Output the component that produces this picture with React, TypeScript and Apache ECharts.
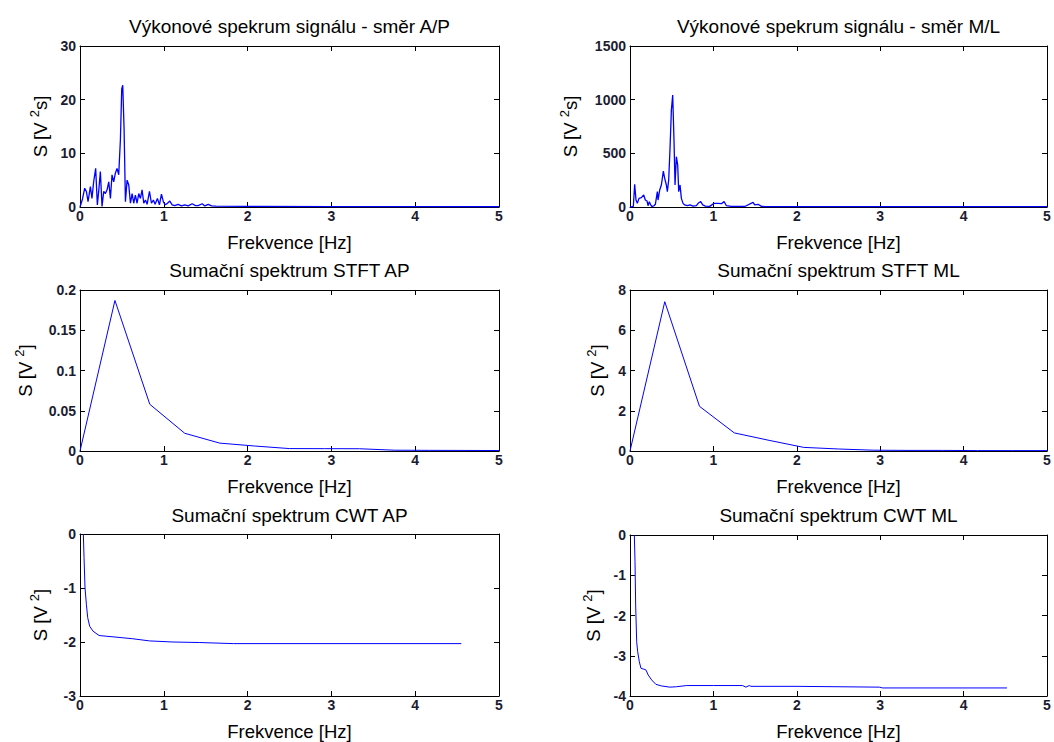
import React, { useEffect, useRef } from "react";
import * as echarts from "echarts";

// ---------- data ----------
const titles = [
  "Výkonové spekrum signálu - směr A/P",
  "Výkonové spekrum signálu - směr M/L",
  "Sumační spektrum STFT AP",
  "Sumační spektrum STFT ML",
  "Sumační spektrum CWT AP",
  "Sumační spektrum CWT ML",
];
const xName = "Frekvence [Hz]";
const xTicks = { min: 0, max: 5, interval: 1 };

// power spectrum A/P: [frequency Hz, S V^2 s]
const apSpectrum: [number, number][] = [
  [0, 0], [0.03, 1.5], [0.056, 3.5], [0.076, 2.9], [0.096, 1.0], [0.124, 3.8], [0.143, 1.6],
  [0.163, 4.7], [0.187, 7.2], [0.207, 0.4], [0.223, 2.9], [0.243, 6.6], [0.263, 0.1],
  [0.283, 2.9], [0.303, 2.5], [0.323, 3.2], [0.343, 4.7], [0.363, 1.6], [0.382, 6.0],
  [0.402, 4.7], [0.422, 6.3], [0.442, 7.2], [0.462, 6.0], [0.482, 12.5], [0.498, 22.0],
  [0.51, 22.7], [0.526, 14.6], [0.542, 1.0], [0.562, 5.0], [0.582, 4.1], [0.602, 0.7],
  [0.622, 2.5], [0.641, 0.7], [0.661, 2.2], [0.681, 0.7], [0.701, 2.5], [0.721, 1.6],
  [0.741, 3.2], [0.761, 0.7], [0.781, 1.3], [0.801, 0.5], [0.829, 2.9], [0.853, 0.7],
  [0.876, 1.3], [0.896, 0.5], [0.924, 1.6], [0.948, 0.4], [0.972, 2.4], [0.996, 0.9],
  [1.02, 0.4], [1.044, 0.7], [1.072, 1.1], [1.1, 0.4], [1.131, 0.25], [1.171, 0.5],
  [1.211, 0.2], [1.251, 0.4], [1.291, 0.2], [1.339, 0.6], [1.378, 0.25], [1.41, 0.25],
  [1.458, 0.6], [1.49, 0.2], [1.53, 0.5], [1.57, 0.2], [1.62, 0.15], [2, 0.1], [3, 0.08],
  [4, 0.06], [5, 0.05],
];

// power spectrum M/L
const mlSpectrum: [number, number][] = [
  [0, 0], [0.016, 0], [0.04, 5], [0.056, 211], [0.072, 65], [0.088, 34], [0.108, 80],
  [0.136, 87], [0.164, 112], [0.184, 65], [0.204, 56], [0.216, 12], [0.232, 50], [0.248, 19],
  [0.264, 3], [0.288, 12], [0.304, 25], [0.328, 143], [0.336, 65], [0.356, 158], [0.376, 205],
  [0.4, 335], [0.416, 267], [0.436, 205], [0.448, 143], [0.464, 252], [0.48, 547], [0.496, 900],
  [0.512, 1043], [0.528, 609], [0.54, 205], [0.556, 469], [0.572, 391], [0.584, 143], [0.6, 205],
  [0.616, 80], [0.636, 34], [0.656, 19], [0.688, 12], [0.72, 19], [0.756, 9], [0.796, 12],
  [0.824, 40], [0.848, 50], [0.872, 20], [0.904, 9], [0.956, 6], [1.008, 34], [1.056, 34],
  [1.096, 31], [1.128, 50], [1.156, 12], [1.216, 6], [1.296, 5], [1.376, 5], [1.476, 43],
  [1.496, 19], [1.536, 25], [1.576, 6], [1.62, 4], [2, 3], [3, 3], [4, 3], [5, 3],
];

// STFT summed spectra
const stftFreq = [0, 0.417, 0.833, 1.25, 1.667, 2.083, 2.5, 2.917, 3.333, 3.75, 4.167, 4.583, 5];
const stftAP = [0, 0.187, 0.058, 0.022, 0.0098, 0.0062, 0.003, 0.0029, 0.0028, 0.001, 0.0008, 0.0007, 0.0006];
const stftML = [0, 7.42, 2.22, 0.9, 0.53, 0.18, 0.1, 0.04, 0.03, 0.03, 0.02, 0.02, 0.02];

// CWT summed spectra
const cwtAP: [number, number][] = [
  [0.04, 0], [0.048, -0.43], [0.06, -1.0], [0.076, -1.3], [0.092, -1.55], [0.116, -1.71],
  [0.156, -1.8], [0.228, -1.88], [0.43, -1.91], [0.63, -1.94], [0.83, -1.98], [1.11, -2.0],
  [1.43, -2.01], [1.83, -2.03], [4.55, -2.03],
];
const cwtML: [number, number][] = [
  [0.052, 0], [0.06, -0.66], [0.068, -1.74], [0.08, -2.65], [0.092, -2.9], [0.112, -3.15],
  [0.131, -3.31], [0.16, -3.33], [0.19, -3.35], [0.219, -3.48], [0.259, -3.6], [0.31, -3.71],
  [0.378, -3.75], [0.478, -3.78], [0.558, -3.77], [0.68, -3.74], [1.0, -3.74], [1.35, -3.74],
  [1.39, -3.78], [1.43, -3.74], [1.45, -3.76], [1.99, -3.76], [2.99, -3.78], [3.03, -3.8],
  [4.52, -3.8],
];

const yRanges = [
  { min: 0, max: 30, interval: 10 },
  { min: 0, max: 1500, interval: 500 },
  { min: 0, max: 0.2, interval: 0.05 },
  { min: 0, max: 8, interval: 2 },
  { min: -3, max: 0, interval: 1 },
  { min: -4, max: 0, interval: 1 },
];
const yNames = [
  "{n|S [V }{s|2}{n|s]}",
  "{n|S [V }{s|2}{n|s]}",
  "{n|S [V }{s|2}{n|]}",
  "{n|S [V }{s|2}{n|]}",
  "{n|S [V }{s|2}{n|]}",
  "{n|S [V }{s|2}{n|]}",
];

// ---------- layout ----------
const FONT = "'Liberation Sans', Arial, Helvetica, sans-serif";
const grids = [
  { left: 80, top: 46, width: 419, height: 161 },
  { left: 630, top: 46, width: 417, height: 161 },
  { left: 80, top: 290, width: 419, height: 161 },
  { left: 630, top: 290, width: 417, height: 161 },
  { left: 80, top: 534, width: 419, height: 162 },
  { left: 630, top: 535, width: 417, height: 161 },
];
const yNameGaps = [30, 50, 45, 23, 30, 27];
const titleTops = [17, 17, 261, 261, 506, 506];
const lineWidths = [1.3, 1.3, 1, 1, 1, 1];

function buildOption() {
  const seriesData = [
    apSpectrum,
    mlSpectrum,
    stftFreq.map((f, i) => [f, stftAP[i]]),
    stftFreq.map((f, i) => [f, stftML[i]]),
    cwtAP,
    cwtML,
  ];
  const axisLine = { show: true, onZero: false, lineStyle: { color: "#000", width: 1 } };
  const tick = { show: true, inside: true, length: 5, lineStyle: { color: "#000", width: 1 } };
  const labelStyle = { fontSize: 14, fontWeight: "bold", color: "#1c1c30", fontFamily: FONT };
  const xAxis: any[] = [];
  const yAxis: any[] = [];
  const series: any[] = [];
  const title: any[] = [];
  grids.forEach((g, i) => {
    xAxis.push({
      type: "value", gridIndex: i, position: "bottom", ...xTicks,
      axisLine, axisTick: tick, splitLine: { show: false },
      axisLabel: { ...labelStyle, margin: 2, formatter: (v: number) => String(v) },
      name: xName, nameLocation: "middle", nameGap: 26,
      nameTextStyle: { fontSize: 18.5, color: "#000", fontFamily: FONT },
    });
    xAxis.push({
      type: "value", gridIndex: i, position: "top", ...xTicks,
      axisLine, axisTick: tick, splitLine: { show: false }, axisLabel: { show: false },
    });
    yAxis.push({
      type: "value", gridIndex: i, position: "left", ...yRanges[i],
      axisLine, axisTick: tick, splitLine: { show: false },
      axisLabel: { ...labelStyle, margin: 4, formatter: (v: number) => String(v) },
      name: yNames[i], nameLocation: "middle", nameRotate: 90, nameGap: yNameGaps[i],
      nameTextStyle: {
        color: "#000", fontFamily: FONT, fontSize: 18.5,
        rich: {
          n: { fontSize: 18.5, fontFamily: FONT, color: "#000", verticalAlign: "bottom", lineHeight: 22 },
          s: { fontSize: 13, fontFamily: FONT, color: "#000", verticalAlign: "top", lineHeight: 22 },
        },
      },
    });
    yAxis.push({
      type: "value", gridIndex: i, position: "right", ...yRanges[i],
      axisLine, axisTick: tick, splitLine: { show: false }, axisLabel: { show: false },
    });
    series.push({
      type: "line", xAxisIndex: 2 * i, yAxisIndex: 2 * i, data: seriesData[i],
      showSymbol: false, symbol: "none", lineStyle: { color: "#0000ff", width: lineWidths[i] },
      clip: true,
    });
    title.push({
      text: titles[i], left: g.left + g.width / 2, top: titleTops[i], textAlign: "center",
      padding: 0,
      textStyle: { fontSize: 19, fontWeight: "normal", color: "#000", fontFamily: FONT },
    });
  });
  return {
    animation: false,
    backgroundColor: "#fff",
    title,
    grid: grids.map((g) => ({ ...g, containLabel: false })),
    xAxis,
    yAxis,
    series,
  };
}

export default function App() {
  const ref = useRef<HTMLDivElement>(null);
  useEffect(() => {
    document.body.style.margin = "0";
    if (!ref.current) return;
    const chart = echarts.init(ref.current, undefined, { renderer: "svg" });
    chart.setOption(buildOption());
    return () => chart.dispose();
  }, []);
  return <div ref={ref} style={{ width: 1054, height: 742, background: "#fff" }} />;
}
